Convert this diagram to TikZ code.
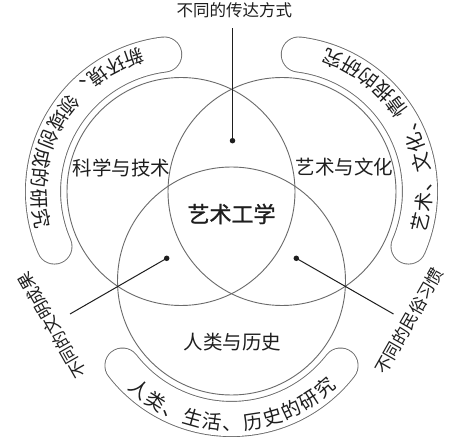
\documentclass[tikz,border=0pt]{standalone}
\usepackage{fontspec}
\setmainfont{Noto Sans CJK SC}
\newfontfamily\heavyfont[FakeBold=1.2]{Noto Sans CJK SC}
\definecolor{circgray}{HTML}{6A6A6A}
\definecolor{ink}{HTML}{1E1E1E}
\tikzset{
  circline/.style={draw=circgray, line width=0.9pt},
  conn/.style={draw=ink, line width=1pt},
  dotnode/.style={circle, fill=ink, inner sep=0pt, minimum size=5.5pt},
  bandout/.style={draw=circgray, line width=36pt, line cap=round},
  bandin/.style={draw=white, line width=34.2pt, line cap=round},
  biglbl/.style={text=ink, inner sep=0pt, font=\fontsize{19.5}{20}\selectfont, text height=17.2pt, text depth=2.3pt},
  corelbl/.style={text=ink, inner sep=0pt, font=\heavyfont\fontsize{22}{24}\selectfont, text height=19.4pt, text depth=2.6pt},
  smalllbl/.style={text=ink, inner sep=0pt, font=\fontsize{17}{18}\selectfont, text height=15pt, text depth=2pt},
  toplbl/.style={text=ink, inner sep=0pt, font=\fontsize{16.5}{18}\selectfont, text height=14.5pt, text depth=2pt},
  bandch/.style={text=ink, inner sep=0pt, font=\fontsize{19.5}{20}\selectfont, text height=17.2pt, text depth=2.3pt}
}
\begin{document}
\begin{tikzpicture}[x=1pt,y=1pt]
\useasboundingbox (0,0) rectangle (474,-438);
\fill[white] (0,0) rectangle (474,-438);
\coordinate (A) at (181,-191.5);
\coordinate (B) at (282,-191.5);
\coordinate (C) at (231.5,-281);
% outer bands
\foreach \cc/\sa/\ea in {A/97/203.5, B/-23.5/83, C/217.8/322.2} {
  \draw[bandout] ([shift={(\sa:138)}]\cc) arc[start angle=\sa, end angle=\ea, radius=138];
  \draw[bandin] ([shift={(\sa:138)}]\cc) arc[start angle=\sa, end angle=\ea, radius=138];
}
% circles
\draw[circline] (A) circle[radius=114];
\draw[circline] (B) circle[radius=114];
\draw[circline] (C) circle[radius=114];
% labels in circles
\node[biglbl] (sci) at (121.7,-168.3) {科学与技术};
\node[biglbl] (art) at (344.5,-167.3) {艺术与文化};
\node[corelbl] (core) at (231.5,-214) {艺术工学};
\node[biglbl] (hum) at (232.5,-341.7) {人类与历史};
% outer labels
\node[toplbl] (trans) at (234.3,-10) {不同的传达方式};
\node[smalllbl, rotate=119.6] (civ) at (52,-325.4) {不同的文明成果};
\node[smalllbl, rotate=60.4] (folk) at (409.2,-320.9) {不同的民俗习惯};
% dots and connectors
\node[dotnode] (dt) at (232.5,-140.7) {};
\node[dotnode] (dl) at (166.7,-258.3) {};
\node[dotnode] (dr) at (296.3,-258.3) {};
\coordinate (et) at (232.5,-28);
\coordinate (el) at (70,-314);
\coordinate (er) at (393.5,-314);
\draw[conn] (dt.center) -- (et);
\draw[conn] (dl.center) -- (el);
\draw[conn] (dr.center) -- (er);
% band texts
\foreach \ch [count=\i from 0] in {新,环,境,、,领,域,创,成,的,研,究} {
  \pgfmathsetmacro\ang{109.5+8.15*\i}
  \pgfmathsetmacro\rot{\ang+90}
  \node[bandch, rotate=\rot] (ul\i) at ([shift={(\ang:142)}]A) {\ch};
}
\foreach \ch [count=\i from 0] in {艺,术,、,文,化,、,情,报,的,研,究} {
  \pgfmathsetmacro\ang{-12.6+8.15*\i}
  \pgfmathsetmacro\rot{\ang+90}
  \node[bandch, rotate=\rot] (ur\i) at ([shift={(\ang:142)}]B) {\ch};
}
\foreach \ch [count=\i from 0] in {人,类,、,生,活,、,历,史,的,研,究} {
  \pgfmathsetmacro\ang{229.7+8.15*\i}
  \pgfmathsetmacro\rot{\ang+90}
  \node[bandch, rotate=\rot] (bt\i) at ([shift={(\ang:142)}]C) {\ch};
}
\end{tikzpicture}
\end{document}
